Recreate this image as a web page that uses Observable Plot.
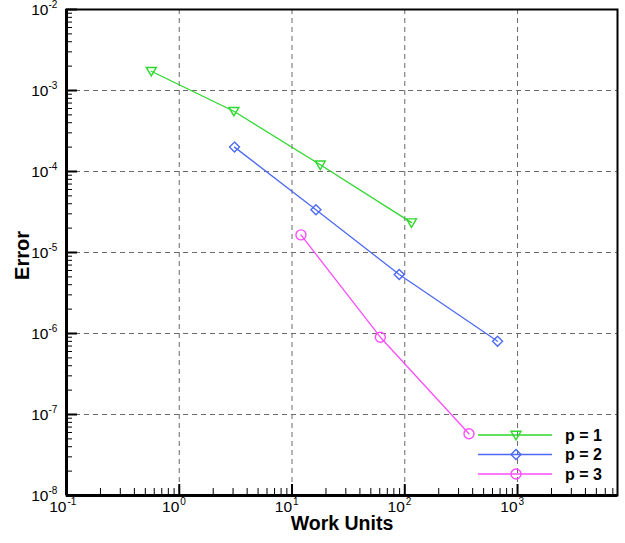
<!DOCTYPE html>
<html>
<head>
<meta charset="utf-8">
<script src="https://cdn.jsdelivr.net/npm/d3@7"></script>
<script src="https://cdn.jsdelivr.net/npm/@observablehq/plot@0.6"></script>
<style>
  html, body { margin: 0; padding: 0; background: #fff; }
  #chart { width: 625px; height: 543px; }
  svg { font-family: "Liberation Sans", Arial, Helvetica, sans-serif; }
</style>
</head>
<body>
<div id="chart"></div>
<script>
// ---- data ----
const seriesNames = ["p = 1", "p = 2", "p = 3"];
const seriesColors = ["#2ed82e", "#4d6af5", "#ff4dff"];
const p1Work = [0.565, 3.05, 17.8, 114.6];
const p1Error = [1.73e-3, 5.55e-4, 1.21e-4, 2.34e-5];
const p2Work = [3.09, 16.3, 89.3, 665];
const p2Error = [2.0e-4, 3.37e-5, 5.35e-6, 8.04e-7];
const p3Work = [12.0, 60.7, 371];
const p3Error = [1.65e-5, 9.0e-7, 5.78e-8];

// ---- axis ticks ----
const xDomain = [0.1, 7700];
const yDomain = [1e-8, 1e-2];
const xMajor = [0.1, 1, 10, 100, 1000];
const xMajorExp = ["-1", "0", "1", "2", "3"];
const yMajor = [1e-8, 1e-7, 1e-6, 1e-5, 1e-4, 1e-3, 1e-2];
const yMajorExp = ["-8", "-7", "-6", "-5", "-4", "-3", "-2"];
const xGrid = [1, 10, 100, 1000];
const yGrid = [1e-7, 1e-6, 1e-5, 1e-4, 1e-3];
const minorMult = [2, 3, 4, 5, 6, 7, 8, 9];
const xMinor = [];
for (const d of xMajor) for (const m of minorMult) if (d * m <= xDomain[1]) xMinor.push(d * m);
const yMinor = [];
for (const d of yMajor.slice(0, -1)) for (const m of minorMult) yMinor.push(d * m);

const rows = [];
[[p1Work, p1Error], [p2Work, p2Error], [p3Work, p3Error]].forEach(([w, e], i) => {
  w.forEach((x, j) => rows.push({series: seriesNames[i], work: x, error: e[j]}));
});

// ---- custom hollow symbols ----
const triDown = {draw(ctx, size) { const r = Math.sqrt(size / Math.PI);
  ctx.moveTo(-r, -0.75 * r); ctx.lineTo(r, -0.75 * r); ctx.lineTo(0, 0.95 * r); ctx.closePath(); }};
const diamond = {draw(ctx, size) { const r = Math.sqrt(size / Math.PI);
  ctx.moveTo(0, -r); ctx.lineTo(r, 0); ctx.lineTo(0, r); ctx.lineTo(-r, 0); ctx.closePath(); }};
const circle = {draw(ctx, size) { const r = Math.sqrt(size / Math.PI);
  ctx.moveTo(r, 0); ctx.arc(0, 0, r, 0, 2 * Math.PI); }};
const symbols = [triDown, diamond, circle];

const W = 625, H = 543;
const M = {top: 9, right: 8, bottom: 48, left: 66};
const plotW = W - M.left - M.right, plotH = H - M.top - M.bottom;

const marks = [
  // grid
  Plot.ruleX(xGrid, {x: d => d, stroke: "#6a6a6a", strokeWidth: 1, strokeDasharray: "5,4"}),
  Plot.ruleY(yGrid, {y: d => d, stroke: "#6a6a6a", strokeWidth: 1, strokeDasharray: "5,4"}),
  // inward ticks
  Plot.tickY(yMinor, {y: d => d, insetRight: plotW - 6, stroke: "#000", strokeWidth: 1}),
  Plot.tickY(yMajor, {y: d => d, insetRight: plotW - 11, stroke: "#000", strokeWidth: 2}),
  Plot.tickX(xMinor, {x: d => d, insetTop: plotH - 7, stroke: "#000", strokeWidth: 1}),
  Plot.tickX(xMajor, {x: d => d, insetTop: plotH - 11, stroke: "#000", strokeWidth: 2}),
  // frame
  Plot.frame({stroke: "#000", strokeWidth: 2}),
  Plot.ruleX([xDomain[0]], {x: d => d, stroke: "#000", strokeWidth: 3}),
  Plot.ruleY([yDomain[0]], {y: d => d, stroke: "#000", strokeWidth: 3}),
  // y tick labels
  Plot.text(yMajor, {y: d => d, frameAnchor: "left", text: () => "10", textAnchor: "end", lineAnchor: "middle", dx: -18, dy: 0.5, fontSize: 15.5, fill: "#000"}),
  Plot.text(yMajor, {y: d => d, frameAnchor: "left", text: (d, i) => yMajorExp[i], textAnchor: "start", lineAnchor: "middle", dx: -18, dy: -5, fontSize: 10, fill: "#000"}),
  // x tick labels
  Plot.text(xMajor, {x: d => d, frameAnchor: "bottom", text: () => "10", textAnchor: "end", lineAnchor: "middle", dy: 11.5, fontSize: 15.5, fill: "#000"}),
  Plot.text(xMajor, {x: d => d, frameAnchor: "bottom", text: (d, i) => xMajorExp[i], textAnchor: "start", lineAnchor: "middle", dx: 1, dy: 6, fontSize: 10, fill: "#000"}),
  // axis titles
  Plot.text(["Error"], {frameAnchor: "left", dx: -44, dy: 3, rotate: -90, text: d => d, textAnchor: "middle", lineAnchor: "middle", fontSize: 20, fontWeight: "bold", fill: "#000"}),
  Plot.text(["Work Units"], {frameAnchor: "bottom", dy: 28, text: d => d, textAnchor: "middle", lineAnchor: "middle", fontSize: 19.5, fontWeight: "bold", fill: "#000"}),
];
seriesNames.forEach((name, i) => {
  const data = rows.filter(r => r.series === name);
  marks.push(Plot.line(data, {x: "work", y: "error", stroke: seriesColors[i], strokeWidth: 1.3}));
  marks.push(Plot.dot(data, {x: "work", y: "error", stroke: seriesColors[i], fill: "none", strokeWidth: 1.4, r: 5, symbol: () => symbols[i]}));
});

const chart = Plot.plot({
  width: W, height: H,
  marginTop: M.top, marginRight: M.right, marginBottom: M.bottom, marginLeft: M.left,
  style: {background: "#fff", fontFamily: "'Liberation Sans', Arial, Helvetica, sans-serif"},
  x: {type: "log", domain: xDomain, axis: null},
  y: {type: "log", domain: yDomain, axis: null},
  symbol: {type: "identity"},
  marks
});

// ---- legend inside plot (lower right) ----
const svg = d3.select(chart);
const leg = svg.append("g").attr("class", "legend");
seriesNames.forEach((name, i) => {
  const y = 435 + i * 19.5;
  const g = leg.append("g").attr("transform", `translate(0,${y})`);
  g.append("line").attr("x1", 478).attr("x2", 552).attr("y1", 0).attr("y2", 0)
    .attr("stroke", seriesColors[i]).attr("stroke-width", 1.3);
  g.append("path").attr("transform", "translate(516,0)")
    .attr("d", d3.symbol(symbols[i], Math.PI * 25)())
    .attr("fill", "none").attr("stroke", seriesColors[i]).attr("stroke-width", 1.4);
  g.append("text").attr("x", 565).attr("y", 0).attr("dy", "0.35em")
    .attr("text-anchor", "start")
    .attr("font-size", 16).attr("font-weight", "bold").attr("fill", "#000").text(name);
});

document.getElementById("chart").appendChild(chart);
</script>
</body>
</html>
